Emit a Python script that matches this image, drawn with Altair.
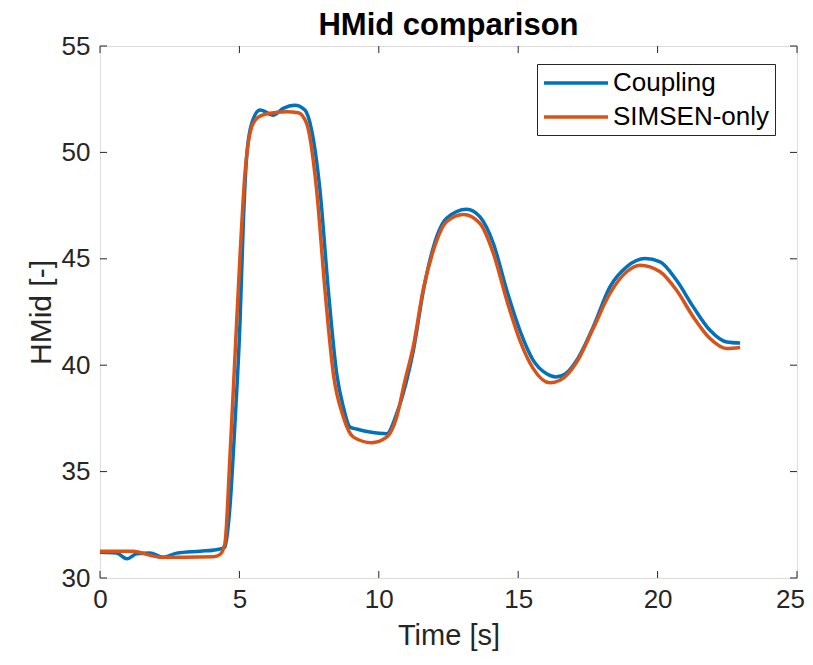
import altair as alt
import pandas as pd

# ---- data ----
t_coupling = [0, 0.6, 0.96, 1.32, 1.79, 2.27, 2.75, 3.59, 4.18, 4.48, 4.66, 4.84, 5.02, 5.14,
              5.26, 5.44, 5.74, 6.22, 6.57, 6.99, 7.35, 7.59, 7.89, 8.19, 8.49, 8.73, 8.97, 9.2,
              9.68, 10.28, 10.64, 11.0, 11.24, 11.6, 11.96, 12.43, 13.15, 13.63, 14.11, 14.59,
              15.06, 15.54, 16.02, 16.35, 16.7, 17.1, 17.69, 18.29, 18.89, 19.55, 20.09, 20.68,
              21.28, 21.88, 22.48, 22.96]
y_coupling = [31.21, 31.17, 30.90, 31.14, 31.17, 30.98, 31.17, 31.26, 31.33, 31.45, 33.33, 37.25,
              41.96, 46.66, 49.79, 51.36, 51.99, 51.75, 52.07, 52.22, 51.99, 51.05, 48.23, 43.52,
              39.60, 38.03, 37.09, 37.0, 36.86, 36.78, 37.72, 39.29, 40.70, 43.52, 45.56, 46.90,
              47.33, 46.97, 45.72, 43.52, 41.64, 40.23, 39.60, 39.45, 39.6, 40.23, 41.80, 43.68,
              44.62, 45.01, 44.86, 43.99, 42.74, 41.64, 41.09, 41.04]

t_simsen = [0, 1.2, 1.67, 2.15, 3.0, 4.07, 4.3, 4.48, 4.66, 4.84, 5.02, 5.2, 5.38, 5.62, 6.04,
            6.70, 7.11, 7.41, 7.77, 8.07, 8.37, 8.73, 9.09, 9.74, 10.28, 10.64, 10.94, 11.24,
            11.6, 11.96, 12.43, 13.03, 13.63, 14.11, 14.59, 15.06, 15.54, 16.14, 16.5, 17.1,
            17.69, 18.29, 18.89, 19.37, 20.09, 20.68, 21.28, 21.88, 22.48, 22.96]
y_simsen = [31.26, 31.26, 31.11, 30.98, 30.98, 31.0, 31.1, 31.62, 35.68, 40.39, 45.09, 49.01,
            50.89, 51.60, 51.83, 51.91, 51.86, 51.36, 48.23, 43.52, 39.60, 37.56, 36.62, 36.36,
            36.62, 37.56, 39.29, 40.9, 43.6, 45.4, 46.74, 47.08, 46.66, 45.25, 43.05, 41.17,
            39.84, 39.17, 39.29, 40.15, 41.72, 43.37, 44.39, 44.70, 44.39, 43.52, 42.27, 41.25,
            40.78, 40.83]

series_names = ["Coupling", "SIMSEN-only"]
series_colors = ["#0072BD", "#D95319"]
x_ticks = [0, 5, 10, 15, 20, 25]
y_ticks = [30, 35, 40, 45, 50, 55]

W, H = 697, 532
FONT = "Liberation Sans"
AX = "#262626"

df = pd.concat([
    pd.DataFrame({"t": t_coupling, "y": y_coupling, "series": series_names[0]}),
    pd.DataFrame({"t": t_simsen, "y": y_simsen, "series": series_names[1]}),
])
xt = pd.DataFrame({"v": x_ticks})
yt = pd.DataFrame({"v": y_ticks})

xscale = alt.Scale(domain=[0, 25], nice=False, zero=False)
yscale = alt.Scale(domain=[30, 55], nice=False, zero=False)

lines = alt.Chart(df).mark_line(strokeWidth=3.5, interpolate="monotone").encode(
    x=alt.X("t:Q", scale=xscale, title="Time [s]",
            axis=alt.Axis(values=x_ticks, ticks=False, domain=False, grid=False,
                          labelFontSize=26, labelFont=FONT, labelColor=AX, labelPadding=8,
                          labelOffset={"expr": "datum.value == 25 ? -7 : 0"},
                          labelFlush=False, titleFontSize=29, titleFont=FONT,
                          titleColor=AX, titleFontWeight="normal", titlePadding=9)),
    y=alt.Y("y:Q", scale=yscale, title="HMid [-]",
            axis=alt.Axis(values=y_ticks, ticks=False, domain=False, grid=False,
                          labelFontSize=26, labelFont=FONT, labelColor=AX, labelPadding=10,
                          labelFlush=False, titleFontSize=30, titleFont=FONT,
                          titleColor=AX, titleFontWeight="normal", titlePadding=5)),
    color=alt.Color("series:N",
                    scale=alt.Scale(domain=series_names, range=series_colors),
                    legend=alt.Legend(title=None, orient="none", legendX=437, legendY=18,
                                      labelFontSize=26, labelFont=FONT, labelColor="black",
                                      symbolType="M-2.67,0H2.67", symbolSize=576,
                                      symbolStrokeWidth=3.5, symbolOffset=20, labelOffset=23,
                                      strokeColor=AX, fillColor="white", padding=5,
                                      rowPadding=7, labelLimit=400)),
)

tick_len = 7
xb = alt.Chart(xt).mark_rule(color=AX, strokeWidth=1).encode(
    x=alt.X("v:Q", scale=xscale), y=alt.value(H), y2=alt.value(H - tick_len))
xtp = alt.Chart(xt).mark_rule(color=AX, strokeWidth=1).encode(
    x=alt.X("v:Q", scale=xscale), y=alt.value(0), y2=alt.value(tick_len))
yl = alt.Chart(yt).mark_rule(color=AX, strokeWidth=1).encode(
    y=alt.Y("v:Q", scale=yscale), x=alt.value(0), x2=alt.value(tick_len))
yr = alt.Chart(yt).mark_rule(color=AX, strokeWidth=1).encode(
    y=alt.Y("v:Q", scale=yscale), x=alt.value(W), x2=alt.value(W - tick_len))

chart = alt.layer(xb, xtp, yl, yr, lines).properties(
    width=W, height=H,
    title=alt.TitleParams("HMid comparison", fontSize=31, fontWeight="bold", font=FONT,
                          color="black", anchor="middle", offset=-9),
    autosize=alt.AutoSizeParams(type="none"),
    padding={"left": 92, "top": 38, "right": 8, "bottom": 73},
).configure_view(stroke=AX, strokeWidth=1.2).configure(background="white")

chart.save("out.html", embed_options={"renderer": "svg", "actions": False})
